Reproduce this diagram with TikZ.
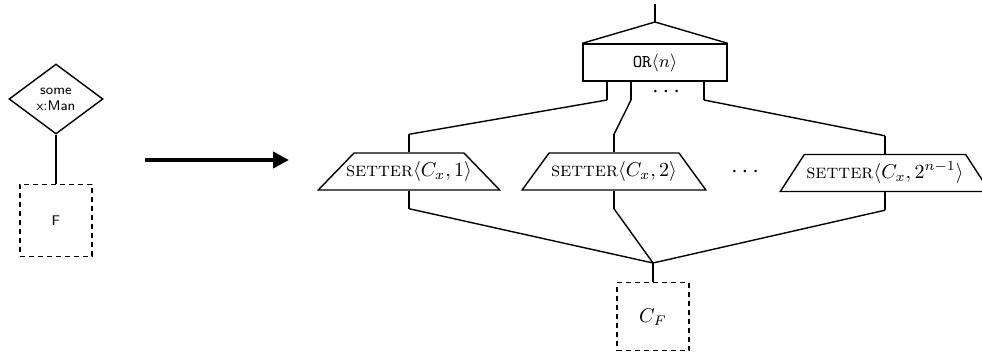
\documentclass[tikz,border=0pt]{standalone}
\usepackage{tikz}
\usetikzlibrary{arrows.meta,positioning,shapes.geometric}

\begin{document}
\begin{tikzpicture}[
x=0.5pt,y=-0.5pt,
cond/.style={diamond,draw,line width=0.7pt,aspect=1.34,inner sep=0pt,
minimum width=47pt,minimum height=35pt,align=center,font=\scriptsize\sffamily},
hole/.style={draw,dash pattern=on 2.5pt off 2pt,line width=0.7pt,
minimum width=36pt,minimum height=36pt,inner sep=0pt},
orbox/.style={draw,line width=0.7pt,minimum width=72pt,minimum height=18.5pt,
font=\small},
setter/.style={trapezium,draw,line width=0.7pt,trapezium angle=54,
inner xsep=1pt,inner ysep=4.25pt,text height=7.5pt,text depth=2.5pt},
stub/.style={line width=1.4pt},
wire/.style={line width=0.7pt},
dots/.style={font=\large,inner sep=0pt},
bigarr/.style={-{Triangle[length=8pt,width=8pt]},line width=2pt}
]
\useasboundingbox (0,0) rectangle (982,359);

\node[cond] (some) at (56,99) {some\\x:Man};
\node[hole,font=\scriptsize\sffamily,below=24.5pt of some] (f) {F};
\draw[wire] (some) -- (f);

\coordinate (a1) at (145,160);
\coordinate (a2) at (289,160);
\draw[bigarr] (a1) -- (a2);

\node[orbox] (or) at (655,62.5) {\texttt{OR}$\langle n\rangle$};
\coordinate (orapex) at (655,22);
\coordinate (ortop) at (655,4);
\draw[wire] (or.north west) -- (orapex) -- (or.north east);
\draw[stub] (ortop) -- (orapex);

\coordinate (o1) at (607,100);
\coordinate (o2) at (631,100);
\coordinate (o3) at (704,100);
\foreach \o in {o1,o2,o3} \draw[stub] (\o |- or.south) -- (\o);
\node[dots] (ordots) at (666,92) {$\cdots$};

\node[setter,trapezium angle=46,inner xsep=-4pt] (s1) at (409,171.5)
  {\textsc{setter}$\langle C_x, 1\rangle$};
\node[setter] (s2) at (614,171.5) {\textsc{setter}$\langle C_x, 2\rangle$};
\node[setter,trapezium angle=57] (s3) at (885,173)
  {\textsc{setter}$\langle C_x, 2^{n-1}\rangle$};
\node[dots] (sdots) at (745,172) {$\cdots$};

\foreach \s in {s1,s2,s3} {
  \coordinate[above=9pt of \s.north] (\s-in);
  \coordinate[below=9pt of \s.south] (\s-out);
  \draw[stub] (\s-in) -- (\s.north);
  \draw[stub] (\s.south) -- (\s-out);
}
\draw[wire] (o1) -- (s1-in);
\draw[wire] (o2) -- (s2-in);
\draw[wire] (o3) -- (s3-in);

\coordinate (merge) at (653,263);
\foreach \s in {s1,s2,s3} \draw[wire] (\s-out) -- (merge);
\node[hole,minimum height=34pt,below=9.5pt of merge] (cf) {$C_F$};
\draw[stub] (merge) -- (cf);
\end{tikzpicture}
\end{document}
